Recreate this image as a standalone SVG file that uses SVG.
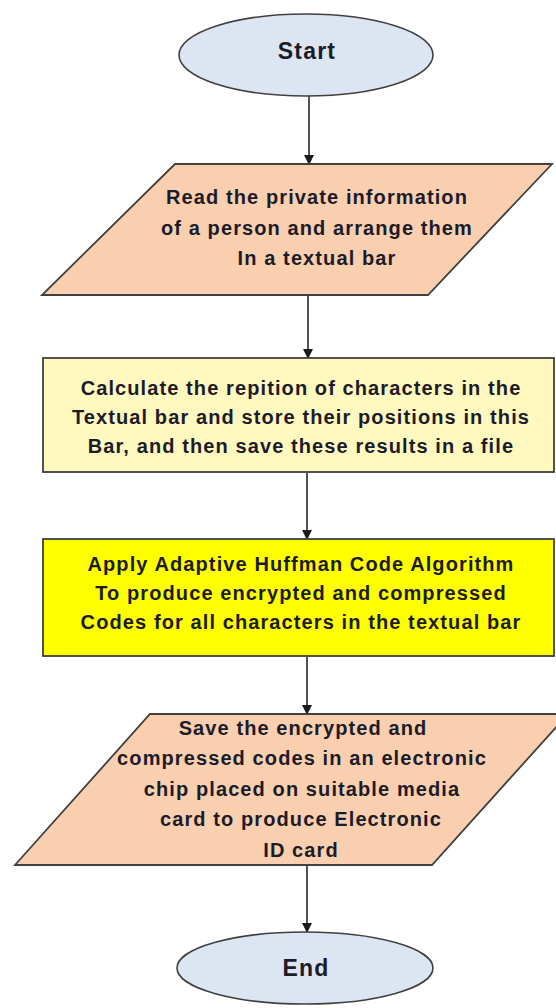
<svg xmlns="http://www.w3.org/2000/svg" width="556" height="1008" viewBox="0 0 556 1008">
<defs>
<marker id="arr" markerWidth="10" markerHeight="10" refX="9" refY="5" orient="auto" markerUnits="userSpaceOnUse">
<path d="M0,0 L10,5 L0,10 Z" fill="#1a1a1a"/>
</marker>
<style>
.term{fill:#dce6f2;stroke:#404040;stroke-width:1.6}
.io{fill:#f9cfb0;stroke:#404040;stroke-width:1.8}
.proc1{fill:#fff8bf;stroke:#404040;stroke-width:1.8}
.proc2{fill:#ffff00;stroke:#404040;stroke-width:1.8}
.t{font-family:"Liberation Sans",Arial,sans-serif;font-weight:bold;font-size:20px;letter-spacing:1.1px;fill:#1c1c28;text-anchor:middle}
.tb{font-family:"Liberation Sans",Arial,sans-serif;font-weight:bold;font-size:23px;letter-spacing:1.2px;fill:#1c1c28;text-anchor:middle}
.c{stroke:#1a1a1a;stroke-width:1.5;fill:none;marker-end:url(#arr)}
</style>
</defs>
<rect width="556" height="1008" fill="#ffffff"/>
<g id="connectors">
<line class="c" x1="309" y1="96" x2="309" y2="164"/>
<line class="c" x1="308" y1="296" x2="308" y2="358"/>
<line class="c" x1="307" y1="473" x2="307" y2="539"/>
<line class="c" x1="307" y1="657" x2="307" y2="714"/>
<line class="c" x1="307" y1="866" x2="307" y2="932"/>
</g>
<g id="start">
<ellipse class="term" cx="306" cy="55" rx="127" ry="41"/>
<text class="tb" x="307" y="59">Start</text>
</g>
<g id="read">
<polygon class="io" points="175,164 552,164 428,295 42,295"/>
<text class="t" x="317" y="204">Read the private information</text>
<text class="t" x="317" y="235">of a person and arrange them</text>
<text class="t" x="317" y="265">In a textual bar</text>
</g>
<g id="calc">
<rect class="proc1" x="43" y="358" width="511" height="114"/>
<text class="t" x="301" y="395">Calculate the repition of characters in the</text>
<text class="t" x="301" y="424">Textual bar and store their positions in this</text>
<text class="t" x="301" y="453">Bar, and then save these results in a file</text>
</g>
<g id="huffman">
<rect class="proc2" x="43" y="539" width="511" height="117"/>
<text class="t" x="301" y="571">Apply Adaptive Huffman Code Algorithm</text>
<text class="t" x="301" y="600">To produce encrypted and compressed</text>
<text class="t" x="301" y="629">Codes for all characters in the textual bar</text>
</g>
<g id="save">
<polygon class="io" points="150,714 568,714 432,865 15,865"/>
<text class="t" x="303" y="735">Save the encrypted and</text>
<text class="t" x="302" y="765">compressed codes in an electronic</text>
<text class="t" x="302" y="796">chip placed on suitable media</text>
<text class="t" x="301" y="826">card to produce Electronic</text>
<text class="t" x="301" y="857">ID card</text>
</g>
<g id="end">
<ellipse class="term" cx="305" cy="968" rx="128" ry="36"/>
<text class="tb" x="306" y="976">End</text>
</g>
</svg>
